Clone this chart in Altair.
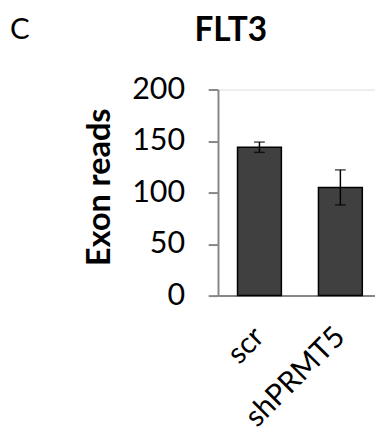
import altair as alt
import pandas as pd

groups = ["scr", "shPRMT5"]
reads = [144, 105]
errors = [5, 17]
y_ticks = [0, 50, 100, 150, 200]

df = pd.DataFrame({"group": groups, "reads": reads, "err": errors})
df["lo"] = df["reads"] - df["err"]
df["hi"] = df["reads"] + df["err"]

FONT = "Lato"
GRAY = "#868686"

x_enc = alt.X(
    "group:N",
    sort=groups,
    scale=alt.Scale(paddingInner=0.458, paddingOuter=0.199, align=0.606),
    axis=alt.Axis(
        title=None, labelAngle=-45, labelAlign="right", labelBaseline="middle",
        labelFontSize=30, labelFont=FONT, labelColor="black",
        ticks=False, labelPadding=37, domainColor=GRAY, domainWidth=2,
    ),
)

y_scale = alt.Scale(domain=[0, 200], nice=False)

bars = alt.Chart(df).mark_bar(color="#404040", stroke="black", strokeWidth=1.5).encode(
    x=x_enc,
    y=alt.Y(
        "reads:Q",
        scale=y_scale,
        axis=alt.Axis(
            title="Exon reads", values=y_ticks, grid=False,
            labelFontSize=31, labelFont=FONT, labelColor="black", labelPadding=24,
            tickSize=10, tickColor=GRAY, tickWidth=2, domainColor=GRAY, domainWidth=2,
            titleFont=FONT, titleFontSize=33, titleFontWeight="bold", titleColor="black",
            titlePadding=16, titleY=99,
        ),
    ),
)

rule = alt.Chart(df).mark_rule(color="black", strokeWidth=1.5).encode(
    x=alt.X("group:N", sort=groups), y=alt.Y("lo:Q", scale=y_scale), y2="hi:Q"
)
cap_hi = alt.Chart(df).mark_tick(color="black", size=11, thickness=1.5, orient="horizontal").encode(
    x=alt.X("group:N", sort=groups), y=alt.Y("hi:Q", scale=y_scale)
)
cap_lo = alt.Chart(df).mark_tick(color="black", size=11, thickness=1.5, orient="horizontal").encode(
    x=alt.X("group:N", sort=groups), y=alt.Y("lo:Q", scale=y_scale)
)

panel = alt.Chart(pd.DataFrame({"t": ["C"]})).mark_text(
    font=FONT, fontSize=30, align="left", baseline="alphabetic", color="black"
).encode(text="t:N", x=alt.value(-212), y=alt.value(-52))

flt3 = alt.Chart(pd.DataFrame({"t": ["FLT3"]})).mark_text(
    font=FONT, fontSize=34, fontWeight="bold", align="center", baseline="alphabetic", color="black"
).encode(text="t:N", x=alt.value(13), y=alt.value(-49))

chart = alt.layer(bars, rule, cap_hi, cap_lo, panel, flt3).properties(
    width=160,
    height=210,
    padding={"left": 214, "top": 79, "right": 0, "bottom": 140},
    autosize=alt.AutoSizeParams(type="none"),
).configure_view(stroke=None).configure(background="white")

chart.save("out.html", embed_options={"renderer": "svg", "actions": False})
